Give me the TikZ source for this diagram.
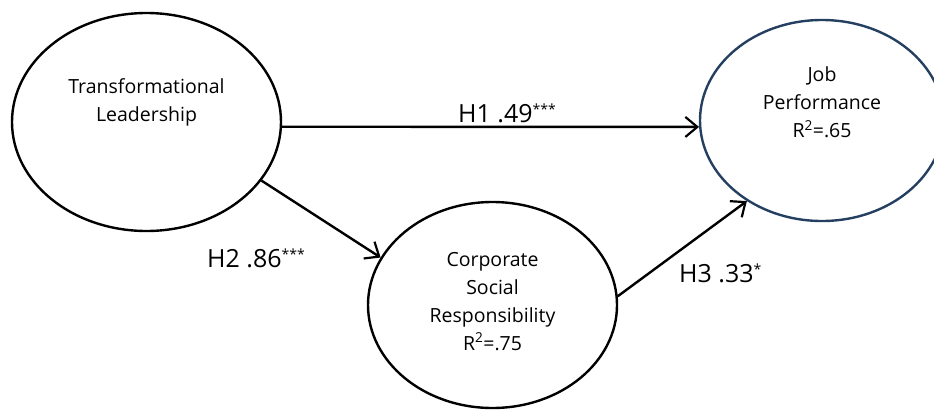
\documentclass[tikz,border=0pt]{standalone}
\usepackage{fontspec}
\setmainfont{Open Sans}
\usetikzlibrary{shapes.geometric, arrows.meta, positioning}
\definecolor{jpblue}{HTML}{243F60}
\newcommand{\sig}[1]{\raisebox{7.5pt}{\fontsize{14}{14}\selectfont #1}}

\begin{document}
\begin{tikzpicture}[
        x=1pt, y=-1pt,
        latent/.style={ellipse, draw, line width=2.4pt, inner sep=0pt},
        vartext/.style={align=center, font=\fontsize{19.5}{28}\selectfont},
        coef/.style={anchor=base west, inner sep=0pt, font=\fontsize{25}{30}\selectfont},
        hyp/.style={-{Straight Barb[length=12pt,width=20pt,line width=2.2pt]}, line width=2.4pt}
    ]
    \useasboundingbox (0,0) rectangle (934,413);

    % Latent variables
    \node[latent, minimum width=269pt, minimum height=218pt] (tl) at (146.5,122) {};
    \node[latent, draw=jpblue, minimum width=244pt, minimum height=201pt] (jp) at (822,120.5) {};
    \node[latent, minimum width=249pt, minimum height=206pt] (csr) at (492.5,305) {};

    % Variable names
    \node[vartext] (tltext) at ([yshift=20pt]tl.center) {Transformational\\Leadership};
    \node[vartext] (jptext) at ([yshift=18pt]jp.center) {Job\\Performance\\R\textsuperscript{2}=.65};
    \node[vartext] (csrtext) at ([yshift=3.5pt]csr.center) {Corporate\\Social\\Responsibility\\R\textsuperscript{2}=.75};

    % Hypotheses
    \draw[hyp] (tl.-2.5) -- (jp.183.5);
    \draw[hyp] (tl.-27.9) -- (csr.157.8);
    \draw[hyp] (csr.4.7) -- (jp.227);

    % Path coefficients
    \node[coef] (h1) at (458,122) {H1 .49\sig{***}};
    \node[coef] (h2) at (207,267) {H2 .86\sig{***}};
    \node[coef] (h3) at (679,282) {H3 .33\sig{*}};

\end{tikzpicture}
\end{document}
